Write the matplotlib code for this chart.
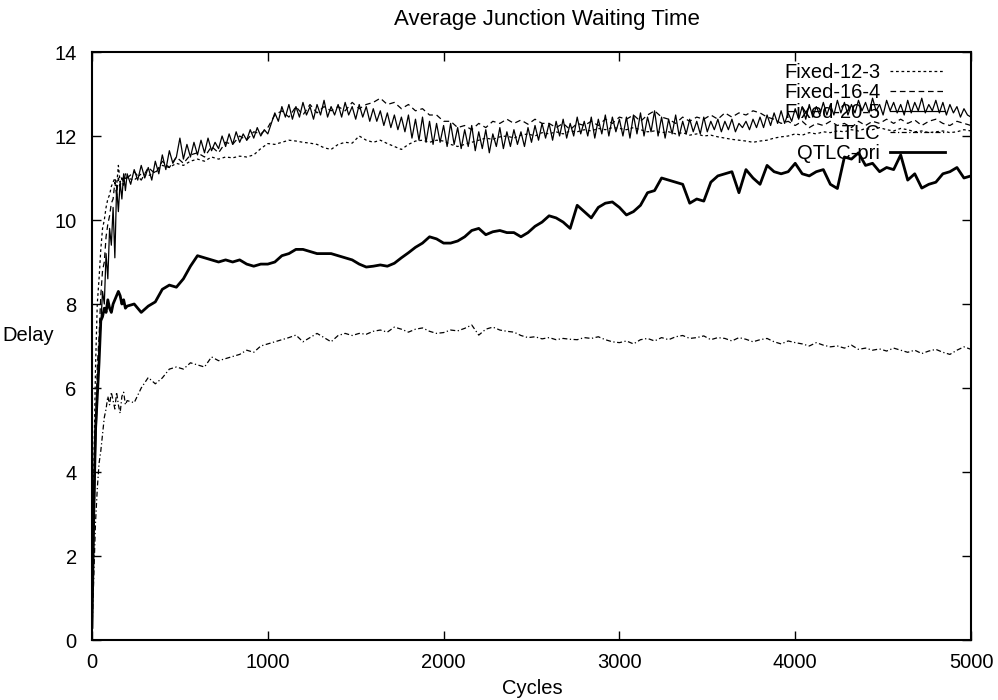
import matplotlib
matplotlib.use("Agg")
import matplotlib.pyplot as plt

plt.rcParams['font.family'] = ['Liberation Sans', 'DejaVu Sans']

cycles = list(range(0, 200, 10)) + list(range(200, 5001, 40))
cycles_fine = list(range(0, 200, 10)) + list(range(200, 5001, 20))

fixed_12_3 = [0.6, 4.0, 6.5, 8.0, 8.6, 9.3, 9.8, 10.0, 10.3, 10.5, 10.6, 10.8, 10.9, 11.0, 10.8, 11.3, 10.9, 11.0, 10.8, 11.0,
    11.0, 10.95, 11.1, 11.05, 11.15, 11.3, 11.25, 11.35, 11.3, 11.4,
    11.45, 11.4, 11.5, 11.45, 11.5, 11.48, 11.52, 11.5, 11.55, 11.7,
    11.82, 11.8, 11.85, 11.9, 11.88, 11.85, 11.83, 11.8, 11.72, 11.68,
    11.8, 11.85, 11.83, 12.0, 11.9, 11.85, 11.9, 11.82, 11.75, 11.68,
    11.8, 11.88, 11.9, 11.85, 11.9, 11.88, 11.8, 11.75, 11.8, 11.85,
    11.9, 11.95, 11.92, 11.98, 12.0, 11.95, 12.02, 12.05, 12.0, 12.08,
    12.05, 12.1, 12.05, 12.12, 12.1, 12.15, 12.12, 12.18, 12.15, 12.2,
    12.18, 12.15, 12.2, 12.15, 12.1, 12.12, 12.08, 12.1, 12.05, 12.08,
    12.02, 12.05, 12.0, 12.02, 11.98, 11.95, 11.92, 11.9, 11.88, 11.85,
    11.88, 11.9, 11.95, 11.98, 12.0, 12.05, 12.02, 12.08, 12.05, 12.1,
    12.08, 12.12, 12.1, 12.15, 12.12, 12.18, 12.15, 12.2, 12.15, 12.12,
    12.18, 12.15, 12.1, 12.12, 12.08, 12.1, 12.12, 12.08, 12.1, 12.15,
    12.12]

fixed_16_4 = [0.4, 3.0, 5.0, 6.5, 7.2, 8.2, 8.8, 9.0, 9.6, 9.9, 10.1, 10.4, 10.5, 10.9, 10.6, 11.0, 10.8, 11.0, 10.9, 11.1,
    11.0, 11.15, 10.95, 11.25, 11.1, 11.4, 11.25, 11.5, 11.35, 11.55,
    11.6, 11.5, 11.75, 11.6, 11.85, 11.8, 12.0, 11.9, 12.1, 12.05,
    12.2, 12.5, 12.6, 12.45, 12.7, 12.5, 12.75, 12.55, 12.7, 12.6,
    12.7, 12.6, 12.8, 12.65, 12.75, 12.8, 12.9, 12.75, 12.8, 12.65,
    12.75, 12.6, 12.65, 12.5, 12.5, 12.35, 12.35, 12.2, 12.25, 12.15,
    12.3, 12.2, 12.35, 12.3, 12.4, 12.3, 12.38, 12.28, 12.4, 12.3,
    12.3, 12.2, 12.3, 12.15, 12.3, 12.25, 12.35, 12.25, 12.4, 12.3,
    12.45, 12.4, 12.5, 12.35, 12.5, 12.6, 12.45, 12.4, 12.3, 12.45,
    12.35, 12.45, 12.4, 12.5, 12.4, 12.55, 12.45, 12.55, 12.5, 12.6,
    12.55, 12.45, 12.4, 12.3, 12.35, 12.25, 12.35, 12.2, 12.3, 12.25,
    12.35, 12.25, 12.3, 12.2, 12.35, 12.25, 12.35, 12.3, 12.4, 12.3,
    12.4, 12.3, 12.38, 12.25, 12.35, 12.4, 12.3, 12.25, 12.35, 12.3,
    12.25]

fixed_20_5 = [0.5, 2.5, 4.5, 5.8, 6.8, 7.5, 8.3, 8.0, 9.2, 8.6, 9.8, 9.4, 10.3, 9.1, 10.8, 10.2, 10.9, 10.5, 11.1, 10.7,
    11.1, 10.85, 11.2, 10.95, 11.3, 11.0, 11.25, 10.95, 11.4, 11.1,
    11.55, 11.2, 11.65, 11.35, 11.5, 11.95, 11.45, 11.8, 11.5, 11.85,
    11.55, 11.9, 11.6, 11.95, 11.65, 11.85, 11.7, 12.0, 11.75, 12.05,
    11.8, 12.1, 11.85, 12.05, 11.9, 12.15, 11.95, 12.2, 12.0, 12.15,
    12.05, 12.3, 12.55, 12.35, 12.7, 12.45, 12.75, 12.4, 12.7, 12.45,
    12.8, 12.5, 12.7, 12.4, 12.75, 12.5, 12.85, 12.45, 12.7, 12.5,
    12.75, 12.45, 12.8, 12.5, 12.7, 12.4, 12.75, 12.45, 12.7, 12.35,
    12.65, 12.35, 12.6, 12.25, 12.55, 12.2, 12.5, 12.15, 12.45, 12.1,
    12.5, 11.95, 12.4, 11.9, 12.45, 11.85, 12.35, 11.8, 12.3, 11.85,
    12.25, 11.75, 12.3, 11.8, 12.2, 11.7, 12.15, 11.75, 12.25, 11.65,
    12.1, 11.7, 12.15, 11.6, 12.05, 11.75, 12.2, 11.7, 12.1, 11.75,
    12.15, 11.8, 12.1, 11.75, 12.2, 11.85, 12.25, 11.9, 12.3, 11.95,
    12.3, 11.9, 12.35, 12.0, 12.4, 11.95, 12.3, 12.0, 12.45, 12.05,
    12.35, 12.0, 12.45, 11.95, 12.4, 12.05, 12.5, 12.0, 12.45, 12.1,
    12.4, 12.0, 12.45, 11.95, 12.5, 12.05, 12.55, 12.0, 12.45, 12.1,
    12.6, 12.0, 12.45, 11.95, 12.4, 12.05, 12.5, 12.0, 12.35, 12.05,
    12.4, 12.1, 12.35, 12.05, 12.45, 12.1, 12.35, 12.15, 12.4, 12.1,
    12.35, 12.15, 12.4, 12.1, 12.3, 12.2, 12.35, 12.15, 12.4, 12.2,
    12.45, 12.2, 12.5, 12.25, 12.55, 12.3, 12.6, 12.3, 12.55, 12.35,
    12.65, 12.4, 12.7, 12.4, 12.75, 12.45, 12.7, 12.5, 12.8, 12.5,
    12.75, 12.5, 12.85, 12.55, 12.8, 12.5, 12.75, 12.55, 12.85, 12.6,
    12.8, 12.55, 12.9, 12.6, 12.75, 12.5, 12.85, 12.6, 12.8, 12.55,
    12.75, 12.5, 12.85, 12.55, 12.8, 12.6, 12.9, 12.55, 12.75, 12.6,
    12.85, 12.55, 12.8, 12.5, 12.75, 12.55, 12.7, 12.45, 12.65, 12.5,
    12.45]

ltlc = [0.2, 1.5, 2.8, 3.6, 4.2, 4.5, 4.9, 5.3, 5.5, 5.8, 5.6, 5.9, 5.7, 5.5, 5.9, 5.6, 5.4, 5.8, 5.9, 5.6,
    5.7, 5.65, 6.0, 6.25, 6.1, 6.24, 6.45, 6.5, 6.45, 6.6,
    6.55, 6.5, 6.74, 6.65, 6.7, 6.75, 6.8, 6.9, 6.85, 7.0,
    7.05, 7.1, 7.15, 7.2, 7.26, 7.1, 7.2, 7.3, 7.2, 7.1,
    7.25, 7.3, 7.25, 7.3, 7.28, 7.35, 7.38, 7.33, 7.45, 7.4,
    7.33, 7.4, 7.43, 7.35, 7.3, 7.32, 7.38, 7.36, 7.42, 7.5,
    7.26, 7.4, 7.45, 7.38, 7.35, 7.33, 7.25, 7.2, 7.22, 7.17,
    7.2, 7.15, 7.18, 7.16, 7.15, 7.2, 7.18, 7.22, 7.15, 7.1,
    7.08, 7.12, 7.05, 7.15, 7.18, 7.12, 7.2, 7.15, 7.22, 7.25,
    7.18, 7.2, 7.24, 7.15, 7.2, 7.18, 7.12, 7.2, 7.16, 7.1,
    7.15, 7.18, 7.1, 7.05, 7.12, 7.08, 7.05, 7.0, 7.08, 7.02,
    6.98, 7.0, 6.95, 7.02, 6.92, 6.95, 6.9, 6.93, 6.88, 6.95,
    6.9, 6.85, 6.9, 6.82, 6.88, 6.92, 6.85, 6.8, 6.9, 6.98,
    6.92]

qtlc_pri = [0.3, 3.0, 5.0, 5.8, 6.6, 7.6, 7.7, 7.9, 7.8, 8.1, 7.9, 7.8, 8.0, 8.1, 8.2, 8.3, 8.2, 8.0, 8.1, 7.9,
    7.95, 8.0, 7.8, 7.95, 8.05, 8.35, 8.45, 8.4, 8.6, 8.9,
    9.15, 9.1, 9.05, 9.0, 9.05, 9.0, 9.05, 8.95, 8.9, 8.95,
    8.95, 9.0, 9.15, 9.2, 9.3, 9.3, 9.25, 9.2, 9.2, 9.2,
    9.15, 9.1, 9.05, 8.95, 8.88, 8.9, 8.93, 8.9, 8.97, 9.1,
    9.22, 9.35, 9.45, 9.6, 9.55, 9.45, 9.45, 9.5, 9.6, 9.75,
    9.8, 9.65, 9.72, 9.75, 9.7, 9.7, 9.6, 9.7, 9.85, 9.95,
    10.1, 10.05, 9.95, 9.8, 10.35, 10.2, 10.05, 10.3, 10.4, 10.43,
    10.3, 10.12, 10.2, 10.35, 10.65, 10.7, 11.0, 10.95, 10.9, 10.85,
    10.4, 10.5, 10.45, 10.9, 11.05, 11.1, 11.15, 10.65, 11.2, 11.0,
    10.85, 11.3, 11.15, 11.1, 11.15, 11.35, 11.1, 11.05, 11.15, 11.2,
    10.85, 10.75, 11.5, 11.45, 11.6, 11.3, 11.35, 11.15, 11.25, 11.2,
    11.55, 10.95, 11.1, 10.76, 10.85, 10.9, 11.1, 11.15, 11.25, 11.0,
    11.05]

labels = ['Fixed-12-3', 'Fixed-16-4', 'Fixed-20-5', 'LTLC', 'QTLC-pri']
x_ticks = [0, 1000, 2000, 3000, 4000, 5000]
y_ticks = [0, 2, 4, 6, 8, 10, 12, 14]

FS = 14.5
fig = plt.figure(figsize=(9.98, 7.0), dpi=100)
ax = fig.add_axes([92/998, 1-640/700, (971-92)/998, (640-52)/700])

ax.plot(cycles, fixed_12_3, color='black', lw=0.9, dashes=(2.2, 2.2), label=labels[0])
ax.plot(cycles, fixed_16_4, color='black', lw=0.9, dashes=(4.5, 3), label=labels[1])
ax.plot(cycles_fine, fixed_20_5, color='black', lw=0.9, label=labels[2])
ax.plot(cycles, ltlc, color='black', lw=0.9, dashes=(4, 2, 1, 2), label=labels[3])
ax.plot(cycles, qtlc_pri, color='black', lw=2.0, label=labels[4])

ax.set_xlim(0, 5000)
ax.set_ylim(0, 14)
ax.set_xticks(x_ticks)
ax.set_yticks(y_ticks)
ax.tick_params(direction='in', length=6.5, width=1, top=True, right=True, labelsize=FS)
ax.tick_params(axis='x', pad=9)
ax.tick_params(axis='y', pad=11)
for s in ax.spines.values():
    s.set_linewidth(1.5)

fig.text(547/998, 1-20/700, 'Average Junction Waiting Time', fontsize=16, ha='center', va='center')
fig.text(532/998, 1-688/700, 'Cycles', fontsize=FS, ha='center', va='center')
fig.text(28/998, 1-335/700, 'Delay', fontsize=FS, ha='center', va='center')

leg = ax.legend(loc='upper right', bbox_to_anchor=(0.97, 0.982), frameon=False, markerfirst=False,
                fontsize=FS, handlelength=2.7, handletextpad=0.5, labelspacing=0.07, borderpad=0, borderaxespad=0)

fig.savefig('out.png', dpi=100)
